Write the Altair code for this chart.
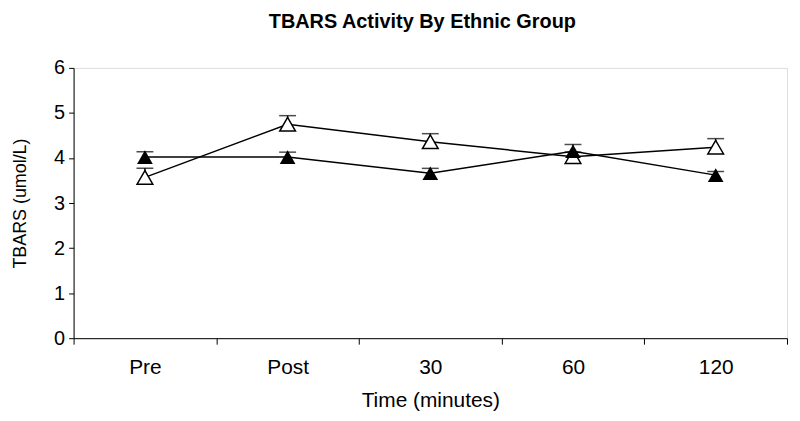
import altair as alt
import pandas as pd

times = ["Pre", "Post", "30", "60", "120"]
filled_vals = [4.02, 4.02, 3.66, 4.15, 3.62]
filled_err = [0.12, 0.11, 0.11, 0.15, 0.08]
open_vals = [3.57, 4.75, 4.36, 4.03, 4.24]
open_err = [0.20, 0.19, 0.18, 0.10, 0.19]

rows = []
for t, v, e in zip(times, filled_vals, filled_err):
    rows.append({"time": t, "group": "filled", "value": v, "upper": v + e})
for t, v, e in zip(times, open_vals, open_err):
    rows.append({"time": t, "group": "open", "value": v, "upper": v + e})
df = pd.DataFrame(rows)

FONT = "Liberation Sans"
W, H = 718, 272

x_enc = alt.X(
    "time:N", sort=times, scale=alt.Scale(paddingInner=0, paddingOuter=0),
    axis=alt.Axis(title="Time (minutes)", labelAngle=0, tickBand="extent",
                  tickSize=6, labelPadding=13, titlePadding=12,
                  labelFontSize=21, titleFontSize=21, labelFont=FONT, titleFont=FONT,
                  labelColor="black", titleColor="black", titleFontWeight="normal",
                  domainColor="black", tickColor="black", grid=False),
)
y_scale = alt.Scale(domain=[0, 6], nice=False, zero=True)
y_enc = alt.Y(
    "value:Q", scale=y_scale,
    axis=alt.Axis(title="TBARS (umol/L)", values=[0, 1, 2, 3, 4, 5, 6], tickSize=5,
                  labelPadding=4, labelFontSize=20, titleFontSize=18,
                  labelFont=FONT, titleFont=FONT, labelColor="black", titleColor="black",
                  titleFontWeight="normal", domainColor="black", tickColor="black",
                  grid=False, titleX=-53, titleBaseline="middle", titleY=H / 2),
)

base = alt.Chart(df)

lines = base.mark_line(color="black", strokeWidth=1.5).encode(
    x=x_enc, y=y_enc, detail="group:N")

bars = base.mark_rule(color="black", strokeWidth=1.5).encode(
    x=alt.X("time:N", sort=times), y=alt.Y("value:Q", scale=y_scale), y2="upper:Q")

caps = base.mark_tick(color="black", thickness=1.5, size=17).encode(
    x=alt.X("time:N", sort=times), y=alt.Y("upper:Q", scale=y_scale))

filled_pts = base.transform_filter(alt.datum.group == "filled").mark_point(
    shape="triangle-up", size=250, filled=True, color="black", opacity=1).encode(
    x=alt.X("time:N", sort=times), y=alt.Y("value:Q", scale=y_scale))

open_pts = base.transform_filter(alt.datum.group == "open").mark_point(
    shape="triangle-up", size=250, filled=True, fill="white", stroke="black",
    strokeWidth=1.5, opacity=1).encode(
    x=alt.X("time:N", sort=times), y=alt.Y("value:Q", scale=y_scale))

chart = alt.layer(lines, bars, caps, open_pts, filled_pts).properties(
    width=W, height=H,
    title=alt.TitleParams("TBARS Activity By Ethnic Group", font=FONT, fontSize=20,
                          fontWeight="bold", color="black", anchor="middle",
                          offset=26, dx=-8),
    autosize=alt.AutoSizeParams(type="none"),
    padding={"left": 66, "top": 59, "right": 5, "bottom": 74},
).configure_view(stroke="#808080", strokeWidth=1.5).configure(background="white")

chart.save("out.html", embed_options={"renderer": "svg", "actions": False})
